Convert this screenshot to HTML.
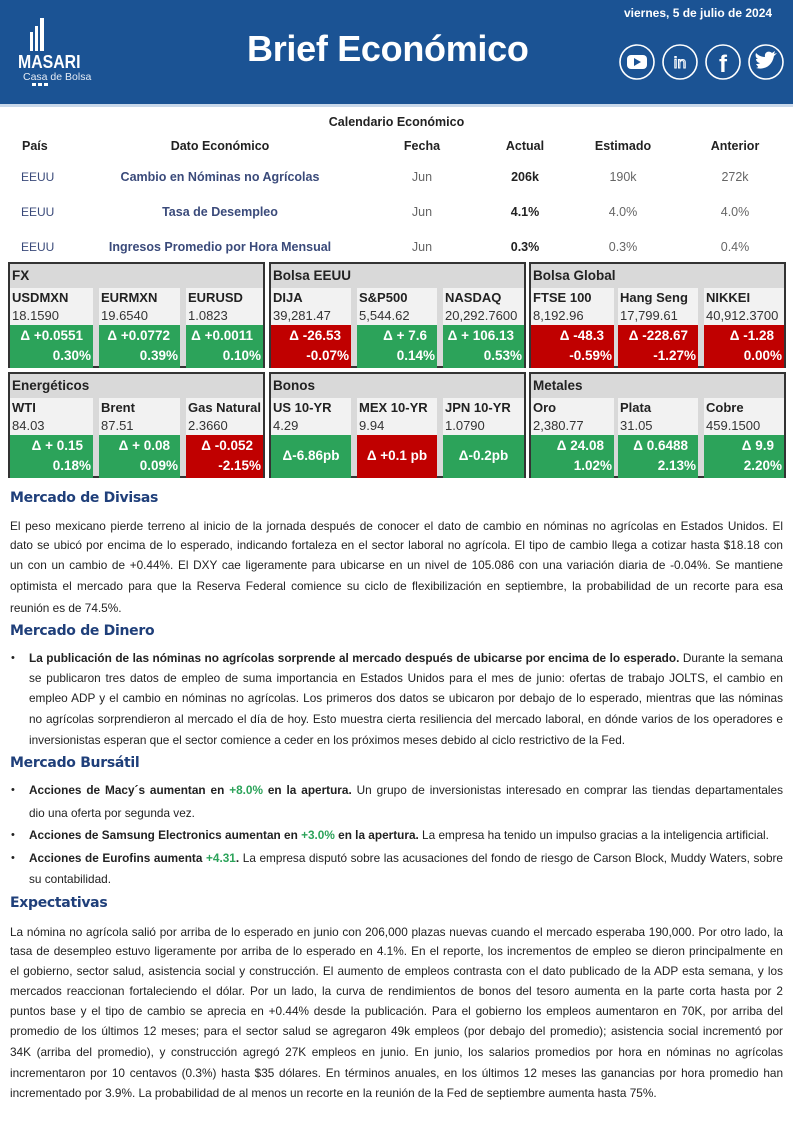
<!DOCTYPE html>
<html><head><meta charset="utf-8">
<style>
*{margin:0;padding:0;box-sizing:border-box}
body{width:793px;height:1123px;position:relative;background:#fff;font-family:"Liberation Sans",sans-serif;overflow:hidden;color:#222}
.hdr{position:absolute;left:0;top:0;width:793px;height:107px;background:#1b5394;border-bottom:3px solid #c9d8ea}
.abs{position:absolute}
.cal{position:absolute;font-size:12.5px;text-align:center}
.panel{position:absolute;width:257px;height:106px;border:2px solid #333;background:#d9d9d9}
.panel .t{position:absolute;left:0;top:0;height:24px;line-height:24px;padding-left:2px;font-weight:bold;font-size:13.5px;color:#222}
.cell{position:absolute;top:24px;height:80px;background:#f2f2f2}
.cell .n{position:absolute;left:2px;top:2px;font-weight:bold;font-size:13px}
.cell .v{position:absolute;left:2px;top:20px;font-size:13px;color:#333}
.cell .b{position:absolute;left:0;right:0;top:37px;height:43px;color:#fff;font-weight:bold;font-size:13.5px;text-align:right}
.b .l1{position:absolute;right:10px;top:3px}
.b .l2{position:absolute;right:2px;top:23px}
.b .c{position:absolute;left:0;right:0;top:13px;text-align:center}
.g{background:#2ca35a}.r{background:#c00000}
.h{position:absolute;left:10px;font-weight:bold;font-size:14px;color:#1f3f7a;font-family:"DejaVu Sans","Liberation Sans",sans-serif;letter-spacing:-0.3px}
.ln{position:absolute;left:10px;width:773px;font-size:11.8px;line-height:20px;height:20px;text-align:justify;text-align-last:justify;white-space:nowrap;color:#222}
.ln.last{text-align-last:left}
.ln.bl{left:29px;width:754px}
.dot{position:absolute;left:11px;font-size:11px}
.gr{color:#2ca35a}
</style></head><body>
<div class="hdr"></div>
<div class="abs" style="left:30px;top:32px;width:3px;height:19px;background:#fff"></div>
<div class="abs" style="left:35px;top:26px;width:3px;height:25px;background:#fff"></div>
<div class="abs" style="left:40px;top:18px;width:4px;height:33px;background:#fff"></div>
<div class="abs" style="left:18px;top:52px;color:#fff;font-size:18px;font-weight:bold;transform:scaleX(0.88);transform-origin:left">MASARI</div>
<div class="abs" style="left:23px;top:71px;color:#e6ecf5;font-size:10.5px">Casa de Bolsa</div>
<div class="abs" style="left:32px;top:83px;width:4px;height:3px;background:#fff"></div>
<div class="abs" style="left:38px;top:83px;width:4px;height:3px;background:#fff"></div>
<div class="abs" style="left:44px;top:83px;width:4px;height:3px;background:#fff"></div>
<div class="abs" style="left:247px;top:28px;color:#fff;font-size:36px;font-weight:bold;letter-spacing:-0.3px">Brief Económico</div>
<div class="abs" style="left:624px;top:6px;color:#fff;font-size:12px;font-weight:bold">viernes, 5 de julio de 2024</div>
<svg class="abs" style="left:615px;top:42px" width="175" height="40" viewBox="0 0 175 40">
<g fill="none" stroke="#fff" stroke-width="1.6">
<circle cx="22" cy="20" r="17"/><circle cx="65" cy="20" r="17"/><circle cx="108" cy="20" r="17"/><circle cx="151" cy="20" r="17"/></g>
<rect x="12" y="13" width="20" height="14" rx="4" fill="#fff"/><path d="M19 16 L26 20 L19 24Z" fill="#1b5394"/>
<text x="65" y="26" text-anchor="middle" font-family="Liberation Sans" font-size="16" fill="none" stroke="#fff" stroke-width="1">in</text>
<text x="108" y="30" text-anchor="middle" font-family="Liberation Sans" font-weight="bold" font-size="24" fill="#fff">f</text>
<path d="M141 26 C148 28 157 25 159 14 L162 11 L159 12 L160 9 L157 11 C154 8 149 10 150 15 C146 15 143 13 141 11 C140 14 141 16 143 17 L141 17 C141 19 143 21 145 21 C144 22 142 22 141 22 C142 24 145 25 141 26Z" fill="#fff"/>
</svg>

<div class="cal" style="left:0;width:793px;top:115px;font-weight:bold">Calendario Económico</div>
<div class="cal" style="left:22px;top:139px;font-weight:bold">País</div>
<div class="cal" style="left:120px;width:200px;top:139px;font-weight:bold">Dato Económico</div>
<div class="cal" style="left:392px;width:60px;top:139px;font-weight:bold">Fecha</div>
<div class="cal" style="left:495px;width:60px;top:139px;font-weight:bold">Actual</div>
<div class="cal" style="left:583px;width:80px;top:139px;font-weight:bold">Estimado</div>
<div class="cal" style="left:695px;width:80px;top:139px;font-weight:bold">Anterior</div>

<div class="cal" style="left:21px;top:170px;color:#3a4a7a;font-size:12px">EEUU</div>
<div class="cal" style="left:70px;width:300px;top:170px;color:#3a4a7a;font-weight:bold">Cambio en Nóminas no Agrícolas</div>
<div class="cal" style="left:392px;width:60px;top:170px;color:#666">Jun</div>
<div class="cal" style="left:495px;width:60px;top:170px;font-weight:bold">206k</div>
<div class="cal" style="left:583px;width:80px;top:170px;color:#666">190k</div>
<div class="cal" style="left:695px;width:80px;top:170px;color:#666">272k</div>

<div class="cal" style="left:21px;top:205px;color:#3a4a7a;font-size:12px">EEUU</div>
<div class="cal" style="left:70px;width:300px;top:205px;color:#3a4a7a;font-weight:bold">Tasa de Desempleo</div>
<div class="cal" style="left:392px;width:60px;top:205px;color:#666">Jun</div>
<div class="cal" style="left:495px;width:60px;top:205px;font-weight:bold">4.1%</div>
<div class="cal" style="left:583px;width:80px;top:205px;color:#666">4.0%</div>
<div class="cal" style="left:695px;width:80px;top:205px;color:#666">4.0%</div>

<div class="cal" style="left:21px;top:240px;color:#3a4a7a;font-size:12px">EEUU</div>
<div class="cal" style="left:70px;width:300px;top:240px;color:#3a4a7a;font-weight:bold">Ingresos Promedio por Hora Mensual</div>
<div class="cal" style="left:392px;width:60px;top:240px;color:#666">Jun</div>
<div class="cal" style="left:495px;width:60px;top:240px;font-weight:bold">0.3%</div>
<div class="cal" style="left:583px;width:80px;top:240px;color:#666">0.3%</div>
<div class="cal" style="left:695px;width:80px;top:240px;color:#666">0.4%</div>

<div class="panel" style="left:8px;top:262px"><div class="t">FX</div>
<div class="cell" style="left:0;width:83px"><div class="n">USDMXN</div><div class="v">18.1590</div><div class="b g"><span class="l1">Δ +0.0551</span><span class="l2">0.30%</span></div></div>
<div class="cell" style="left:89px;width:81px"><div class="n">EURMXN</div><div class="v">19.6540</div><div class="b g"><span class="l1">Δ +0.0772</span><span class="l2">0.39%</span></div></div>
<div class="cell" style="left:176px;width:77px"><div class="n">EURUSD</div><div class="v">1.0823</div><div class="b g"><span class="l1">Δ +0.0011</span><span class="l2">0.10%</span></div></div>
</div>
<div class="panel" style="left:269px;top:262px"><div class="t">Bolsa EEUU</div>
<div class="cell" style="left:0;width:80px"><div class="n">DIJA</div><div class="v">39,281.47</div><div class="b r"><span class="l1">Δ -26.53</span><span class="l2">-0.07%</span></div></div>
<div class="cell" style="left:86px;width:80px"><div class="n">S&amp;P500</div><div class="v">5,544.62</div><div class="b g"><span class="l1">Δ + 7.6</span><span class="l2">0.14%</span></div></div>
<div class="cell" style="left:172px;width:81px"><div class="n">NASDAQ</div><div class="v">20,292.7600</div><div class="b g"><span class="l1">Δ + 106.13</span><span class="l2">0.53%</span></div></div>
</div>
<div class="panel" style="left:529px;top:262px"><div class="t">Bolsa Global</div>
<div class="cell" style="left:0;width:83px"><div class="n">FTSE 100</div><div class="v">8,192.96</div><div class="b r"><span class="l1">Δ -48.3</span><span class="l2">-0.59%</span></div></div>
<div class="cell" style="left:87px;width:80px"><div class="n">Hang Seng</div><div class="v">17,799.61</div><div class="b r"><span class="l1">Δ -228.67</span><span class="l2">-1.27%</span></div></div>
<div class="cell" style="left:173px;width:80px"><div class="n">NIKKEI</div><div class="v">40,912.3700</div><div class="b r"><span class="l1">Δ -1.28</span><span class="l2">0.00%</span></div></div>
</div>
<div class="panel" style="left:8px;top:372px"><div class="t">Energéticos</div>
<div class="cell" style="left:0;width:83px"><div class="n">WTI</div><div class="v">84.03</div><div class="b g"><span class="l1">Δ + 0.15</span><span class="l2">0.18%</span></div></div>
<div class="cell" style="left:89px;width:81px"><div class="n">Brent</div><div class="v">87.51</div><div class="b g"><span class="l1">Δ + 0.08</span><span class="l2">0.09%</span></div></div>
<div class="cell" style="left:176px;width:77px"><div class="n">Gas Natural</div><div class="v">2.3660</div><div class="b r"><span class="l1">Δ -0.052</span><span class="l2">-2.15%</span></div></div>
</div>
<div class="panel" style="left:269px;top:372px"><div class="t">Bonos</div>
<div class="cell" style="left:0;width:80px"><div class="n">US 10-YR</div><div class="v">4.29</div><div class="b g"><span class="c">Δ-6.86pb</span></div></div>
<div class="cell" style="left:86px;width:80px"><div class="n">MEX 10-YR</div><div class="v">9.94</div><div class="b r"><span class="c">Δ +0.1 pb</span></div></div>
<div class="cell" style="left:172px;width:81px"><div class="n">JPN 10-YR</div><div class="v">1.0790</div><div class="b g"><span class="c">Δ-0.2pb</span></div></div>
</div>
<div class="panel" style="left:529px;top:372px"><div class="t">Metales</div>
<div class="cell" style="left:0;width:83px"><div class="n">Oro</div><div class="v">2,380.77</div><div class="b g"><span class="l1">Δ 24.08</span><span class="l2">1.02%</span></div></div>
<div class="cell" style="left:87px;width:80px"><div class="n">Plata</div><div class="v">31.05</div><div class="b g"><span class="l1">Δ 0.6488</span><span class="l2">2.13%</span></div></div>
<div class="cell" style="left:173px;width:80px"><div class="n">Cobre</div><div class="v">459.1500</div><div class="b g"><span class="l1">Δ 9.9</span><span class="l2">2.20%</span></div></div>
</div>

<div class="h" style="top:490px">Mercado de Divisas</div>
<div class="ln" style="top:516px">El peso mexicano pierde terreno al inicio de la jornada después de conocer el dato de cambio en nóminas no agrícolas en Estados Unidos. El</div>
<div class="ln" style="top:535px">dato se ubicó por encima de lo esperado, indicando fortaleza en el sector laboral no agrícola. El tipo de cambio llega a cotizar hasta $18.18 con</div>
<div class="ln" style="top:555px">un con un cambio de +0.44%. El DXY cae ligeramente para ubicarse en un nivel de 105.086 con una variación diaria de -0.04%. Se mantiene</div>
<div class="ln" style="top:576px">optimista el mercado para que la Reserva Federal comience su ciclo de flexibilización en septiembre, la probabilidad de un recorte para esa</div>
<div class="ln last" style="top:598px">reunión es de 74.5%.</div>

<div class="h" style="top:623px">Mercado de Dinero</div>
<div class="dot" style="top:648px;line-height:20px">•</div>
<div class="ln bl" style="top:648px"><b>La publicación de las nóminas no agrícolas sorprende al mercado después de ubicarse por encima de lo esperado.</b> Durante la semana</div>
<div class="ln bl" style="top:668px">se publicaron tres datos de empleo de suma importancia en Estados Unidos para el mes de junio: ofertas de trabajo JOLTS, el cambio en</div>
<div class="ln bl" style="top:688px">empleo ADP y el cambio en nóminas no agrícolas. Los primeros dos datos se ubicaron por debajo de lo esperado, mientras que las nóminas</div>
<div class="ln bl" style="top:709px">no agrícolas sorprendieron al mercado el día de hoy. Esto muestra cierta resiliencia del mercado laboral, en dónde varios de los operadores e</div>
<div class="ln bl last" style="top:730px">inversionistas esperan que el sector comience a ceder en los próximos meses debido al ciclo restrictivo de la Fed.</div>

<div class="h" style="top:755px">Mercado Bursátil</div>
<div class="dot" style="top:780px;line-height:20px">•</div>
<div class="ln bl" style="top:780px"><b>Acciones de Macy´s aumentan en <span class="gr">+8.0%</span> en la apertura.</b> Un grupo de inversionistas interesado en comprar las tiendas departamentales</div>
<div class="ln bl last" style="top:803px">dio una oferta por segunda vez.</div>
<div class="dot" style="top:825px;line-height:20px">•</div>
<div class="ln bl last" style="top:825px"><b>Acciones de Samsung Electronics aumentan en <span class="gr">+3.0%</span> en la apertura.</b> La empresa ha tenido un impulso gracias a la inteligencia artificial.</div>
<div class="dot" style="top:848px;line-height:20px">•</div>
<div class="ln bl" style="top:848px"><b>Acciones de Eurofins aumenta <span class="gr">+4.31</span>.</b> La empresa disputó sobre las acusaciones del fondo de riesgo de Carson Block, Muddy Waters, sobre</div>
<div class="ln bl last" style="top:869px">su contabilidad.</div>

<div class="h" style="top:895px">Expectativas</div>
<div class="ln" style="top:922px">La nómina no agrícola salió por arriba de lo esperado en junio con 206,000 plazas nuevas cuando el mercado esperaba 190,000. Por otro lado, la</div>
<div class="ln" style="top:941px">tasa de desempleo estuvo ligeramente por arriba de lo esperado en 4.1%. En el reporte, los incrementos de empleo se dieron principalmente en</div>
<div class="ln" style="top:961px">el gobierno, sector salud, asistencia social y construcción. El aumento de empleos contrasta con el dato publicado de la ADP esta semana, y los</div>
<div class="ln" style="top:981px">mercados reaccionan fortaleciendo el dólar. Por un lado, la curva de rendimientos de bonos del tesoro aumenta en la parte corta hasta por 2</div>
<div class="ln" style="top:1001px">puntos base y el tipo de cambio se aprecia en +0.44% desde la publicación. Para el gobierno los empleos aumentaron en 70K, por arriba del</div>
<div class="ln" style="top:1021px">promedio de los últimos 12 meses; para el sector salud se agregaron 49k empleos (por debajo del promedio); asistencia social incrementó por</div>
<div class="ln" style="top:1042px">34K (arriba del promedio), y construcción agregó 27K empleos en junio. En junio, los salarios promedios por hora en nóminas no agrícolas</div>
<div class="ln" style="top:1063px">incrementaron por 10 centavos (0.3%) hasta $35 dólares. En términos anuales, en los últimos 12 meses las ganancias por hora promedio han</div>
<div class="ln last" style="top:1083px">incrementado por 3.9%. La probabilidad de al menos un recorte en la reunión de la Fed de septiembre aumenta hasta 75%.</div>
</body></html>
